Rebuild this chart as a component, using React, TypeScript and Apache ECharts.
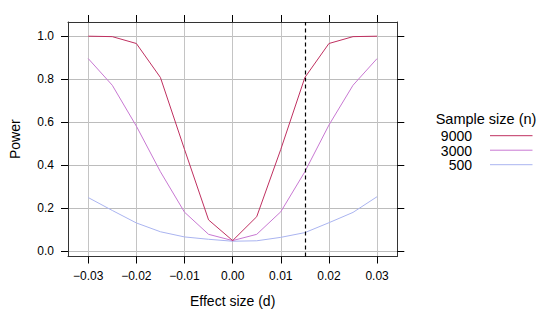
import React, { useEffect, useRef } from "react";
import * as echarts from "echarts";

const effectSizes = [-0.03, -0.025, -0.02, -0.015, -0.01, -0.005, 0, 0.005, 0.01, 0.015, 0.02, 0.025, 0.03];
const power9000 = [1.0, 0.998, 0.966, 0.808, 0.474, 0.146, 0.05, 0.161, 0.474, 0.808, 0.966, 0.998, 1.0];
const power3000 = [0.896, 0.772, 0.582, 0.37, 0.182, 0.079, 0.05, 0.079, 0.184, 0.37, 0.587, 0.772, 0.896];
const power500 = [0.25, 0.19, 0.132, 0.091, 0.067, 0.056, 0.047, 0.049, 0.065, 0.087, 0.133, 0.181, 0.254];
const sampleSizes = ["9000", "3000", "500"];
const seriesColors = ["#bf3060", "#c878d2", "#aab4f0"];
const xTicks = [-0.03, -0.02, -0.01, 0, 0.01, 0.02, 0.03];
const yTicks = [0, 0.2, 0.4, 0.6, 0.8, 1.0];
const referenceEffect = 0.015;

const FONT = "'Liberation Sans', Arial, Helvetica, sans-serif";

export default function App() {
  const ref = useRef<HTMLDivElement>(null);
  useEffect(() => {
    if (!ref.current) return;
    const chart = echarts.init(ref.current, null, { renderer: "svg" });
    const allSeries = [power9000, power3000, power500];
    const tickLine = { show: true, inside: false, length: 7, lineStyle: { color: "#000", width: 1 } };
    const axisLine = { show: true, onZero: false, lineStyle: { color: "#333", width: 1 } };
    const xBase = {
      type: "value" as const,
      min: -0.0342,
      max: 0.0342,
      axisLine,
      axisTick: { ...tickLine, customValues: xTicks },
    };
    const yBase = {
      type: "value" as const,
      min: -0.024,
      max: 1.066,
      axisLine,
      axisTick: { ...tickLine, customValues: yTicks },
    };
    const legendGraphics: any[] = [
      {
        type: "text",
        id: "legend-title",
        x: 486,
        y: 119,
        style: {
          text: "Sample size (n)",
          fontSize: 14.5,
          fontFamily: FONT,
          fill: "#000",
          align: "center",
          verticalAlign: "middle",
        },
      },
    ];
    sampleSizes.forEach((s, i) => {
      const cy = 136 + i * 14.5;
      legendGraphics.push({
        type: "text",
        id: "legend-text-" + s,
        x: 472,
        y: cy,
        z: 10,
        style: { text: s, fontSize: 14, fontFamily: FONT, fill: "#000", align: "right", verticalAlign: "middle" },
      });
      legendGraphics.push({
        type: "polyline",
        id: "legend-line-" + s,
        z: 10,
        shape: { points: [[490, cy - 0.3], [532.5, cy - 0.3]] },
        style: { stroke: seriesColors[i], lineWidth: 1, fill: "none" },
      });
    });
    chart.setOption({
      animation: false,
      grid: { left: 66, top: 22, right: 142.7, bottom: 58.5, containLabel: false },
      xAxis: [
        {
          ...xBase,
          position: "bottom",
          name: "Effect size (d)",
          nameLocation: "middle",
          nameGap: 37,
          nameTextStyle: { fontSize: 14, fontFamily: FONT, color: "#000" },
          axisLabel: {
            customValues: xTicks,
            fontSize: 12,
            fontFamily: FONT,
            color: "#000",
            margin: 13,
            formatter: (v: number) => v.toFixed(2).replace("-", "\u2212"),
          },
          splitLine: { show: true, lineStyle: { color: "#c4c4c4", width: 1 } },
        },
        {
          ...xBase,
          position: "top",
          axisLabel: { show: false },
          splitLine: { show: false },
        },
      ],
      yAxis: [
        {
          ...yBase,
          position: "left",
          name: "Power",
          nameLocation: "middle",
          nameGap: 46,
          nameTextStyle: { fontSize: 14, fontFamily: FONT, color: "#000" },
          axisLabel: {
            customValues: yTicks,
            fontSize: 12,
            fontFamily: FONT,
            color: "#000",
            margin: 14,
            formatter: (v: number) => v.toFixed(1),
          },
          splitLine: { show: true, lineStyle: { color: "#bcbcbc", width: 1 } },
        },
        {
          ...yBase,
          position: "right",
          axisLabel: { show: false },
          splitLine: { show: false },
        },
      ],
      series: allSeries.map((vals, i) => ({
        name: sampleSizes[i],
        type: "line",
        data: effectSizes.map((x, j) => [x, vals[j]]),
        symbol: "none",
        lineStyle: { color: seriesColors[i], width: 1 },
        itemStyle: { color: seriesColors[i] },
        z: 3 + (2 - i),
        markLine:
          i === 0
            ? {
                silent: true,
                symbol: "none",
                precision: 4,
                label: { show: false },
                lineStyle: { type: [4, 3], color: "#000", width: 1.2 },
                data: [{ xAxis: referenceEffect }],
              }
            : undefined,
      })),
      graphic: legendGraphics,
    });
    return () => chart.dispose();
  }, []);
  return <div ref={ref} style={{ position: "absolute", left: 0, top: 0, width: 540, height: 315 }} />;
}
